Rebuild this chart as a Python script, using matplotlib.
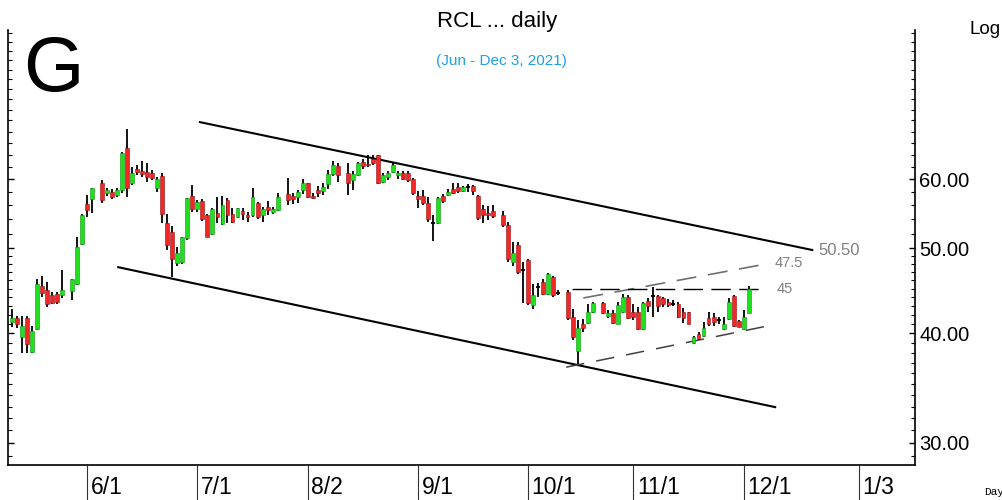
import numpy as np
import pandas as pd
import matplotlib
matplotlib.use("Agg")
import matplotlib.pyplot as plt
from matplotlib.ticker import FixedLocator, FuncFormatter, NullFormatter

nan = np.nan

# daily OHLC (nan = no bar printed that day)
open_ = [41.2, 41.7, 39.6, 41.7, 38.1, 40.45, 45.3, 44.8, 44.2, 44.35,
         44.2, nan, 44.7, 45.6, 50.6, 56.2, 56.95, nan, 59.4, 57.85,
         58.0, 57.55, 58.3, 65.1, 59.4, 61.55, 61.3, 61.1, 61.0, 58.55,
         60.45, 53.45, 52.25, 48.15, 48.3, 51.35, 57.4, 55.4, 56.65, 54.6,
         52.0, 54.9, 53.35, 56.8, 54.8, 54.3, 55.2, 54.6, 54.6, 56.3,
         54.65, 55.8, 55.1, 55.3, nan, 57.7, 57.4, 57.3, 58.3, 59.35,
         57.45, 58.3, 58.2, 59.25, 60.75, 62.05, nan, 60.9, 59.85, 60.6,
         62.8, 62.5, 63.2, 63.85, 59.6, 60.3, 61.15, 60.6, 61.0, 61.0,
         60.1, 57.4, 57.4, 56.3, 53.5, 53.5, 57.4, 57.5, 58.4, 58.7,
         58.2, 58.8, 58.85, 57.4, 55.4, 54.85, 55.2, nan, 54.6, 53.2,
         48.3, 50.4, 47.3, 48.5, 43.1, 45.15, 45.8, 44.4, 46.4, 44.5,
         nan, 44.6, 41.75, 38.15, 41.0, 41.1, 42.3, nan, 43.3, 41.9,
         42.2, 41.0, 42.3, 44.0, 42.35, 42.35, 40.5, 43.55, 44.1, 44.1,
         43.85, 43.45, 43.25, 43.25, 42.3, 42.3, 38.95, 39.9, 39.7, 41.6,
         41.75, 41.45, 40.5, 41.5, 44.1, 41.35, 40.5, 42.2]
high = [42.7, 41.9, 41.9, 41.9, 40.8, 46.1, 46.5, 45.75, 44.6, 44.6,
        47.3, nan, 46.2, 51.5, 54.7, 57.55, 58.6, nan, 59.85, 58.6,
        58.45, 58.6, 64.4, 68.4, 61.9, 62.2, 62.9, 62.6, 61.4, 60.35,
        60.9, 54.8, 53.0, 50.2, 51.55, 57.1, 59.05, 56.8, 56.9, 54.8,
        55.6, 57.3, 57.4, 57.1, 55.6, 55.65, 55.55, 55.05, 58.55, 56.55,
        55.8, 56.7, 55.8, 57.8, nan, 60.25, 57.8, 58.3, 60.1, 59.45,
        57.8, 58.9, 59.45, 61.4, 62.9, 62.6, nan, 62.6, 61.3, 62.8,
        63.3, 64.0, 63.85, 64.0, 61.0, 61.3, 62.75, 61.3, 61.3, 61.3,
        60.25, 58.2, 58.3, 57.3, 54.6, 57.3, 57.7, 58.4, 59.35, 59.35,
        58.95, 59.2, 59.1, 57.55, 56.0, 55.9, 56.0, nan, 55.2, 53.6,
        50.9, 50.9, 48.3, 48.7, 45.6, 45.7, 46.2, 46.9, 46.5, 44.8,
        nan, 44.8, 42.7, 41.4, 41.5, 43.25, 43.45, nan, 43.45, 42.5,
        42.5, 43.45, 44.4, 44.2, 43.25, 42.9, 43.45, 43.85, 45.2, 44.3,
        44.05, 43.75, 43.65, 43.45, 42.8, 42.3, 39.75, 40.15, 41.2, 42.3,
        42.15, 41.75, 41.75, 43.85, 44.3, 41.45, 42.55, 45.3]
low = [40.7, 40.6, 38.0, 38.0, 38.0, 40.4, 44.0, 42.85, 43.2, 43.2,
       43.9, nan, 43.65, 45.4, 50.5, 54.3, 54.9, nan, 56.35, 57.4,
       56.95, 57.25, 57.85, 57.25, 59.1, 60.6, 60.3, 59.6, 59.85, 58.05,
       53.45, 49.8, 46.4, 47.8, 48.0, 51.1, 55.0, 55.0, 53.8, 51.5,
       51.8, 53.45, 53.2, 53.45, 53.45, 54.2, 53.9, 53.65, 54.3, 54.0,
       53.65, 54.6, 54.75, 55.2, nan, 56.0, 56.2, 56.35, 57.7, 57.1,
       56.95, 57.3, 57.55, 58.4, 60.5, 59.6, nan, 57.55, 58.3, 60.45,
       61.7, 61.9, 62.2, 59.3, 59.35, 59.85, 60.9, 60.1, 59.85, 59.6,
       57.55, 55.6, 56.05, 53.65, 51.0, 53.35, 56.4, 57.4, 57.7, 57.9,
       58.05, 58.05, 57.55, 53.9, 53.5, 53.9, 54.15, nan, 52.85, 48.25,
       47.8, 46.8, 43.3, 43.1, 42.7, 44.05, 44.3, 44.3, 44.05, 44.2,
       nan, 41.4, 39.3, 36.95, 40.15, 41.05, 42.15, nan, 42.05, 41.7,
       41.05, 40.95, 42.2, 41.5, 41.4, 40.4, 40.4, 42.3, 41.75, 42.3,
       42.85, 42.85, 42.95, 41.6, 41.1, 40.95, 38.9, 39.3, 39.6, 40.8,
       40.8, 41.05, 40.4, 41.4, 40.65, 40.65, 40.4, 42.15]
close = [41.7, 41.0, 40.8, 38.9, 40.25, 45.6, 44.5, 43.2, 43.3, 43.4,
         44.8, nan, 46.1, 50.2, 54.6, 55.3, 58.6, nan, 56.8, 58.3,
         57.25, 58.3, 64.25, 58.6, 60.95, 61.1, 60.85, 60.3, 60.25, 60.1,
         54.8, 50.5, 48.7, 49.45, 51.5, 57.05, 55.4, 56.55, 54.0, 51.6,
         55.4, 54.3, 56.0, 54.6, 53.65, 55.6, 54.8, 54.3, 57.3, 54.3,
         55.45, 55.3, 55.45, 57.3, nan, 56.8, 56.9, 58.05, 59.45, 57.25,
         57.05, 57.8, 58.8, 60.85, 62.2, 60.6, nan, 59.35, 60.85, 62.55,
         62.05, 62.2, 62.65, 59.35, 60.6, 60.9, 62.2, 61.0, 59.95, 59.85,
         57.8, 56.9, 56.3, 54.0, 53.5, 57.05, 56.7, 58.05, 57.9, 58.2,
         58.7, 58.8, 58.2, 54.15, 54.6, 54.6, 54.45, nan, 53.2, 48.7,
         49.4, 47.0, 47.3, 43.3, 44.2, 45.15, 44.4, 46.8, 44.2, 44.5,
         nan, 41.6, 39.6, 40.6, 40.6, 42.3, 43.3, nan, 42.15, 42.25,
         41.1, 43.1, 44.0, 41.6, 41.8, 40.5, 43.3, 42.95, 44.1, 43.0,
         43.25, 43.1, 43.25, 41.75, 41.6, 41.05, 39.6, 39.45, 40.6, 41.05,
         41.2, 41.45, 41.0, 43.45, 40.8, 40.7, 41.8, 45.0]

first_day = "2021-05-11"
month_dates = ["2021-06-01", "2021-07-01", "2021-08-02", "2021-09-01",
               "2021-10-01", "2021-11-01", "2021-12-01", "2022-01-03"]
month_labels = ["6/1", "7/1", "8/2", "9/1", "10/1", "11/1", "12/1", "1/3"]

# trend lines: (bar index, price) end points
channel_top = ([37.5, 159.7], [69.7, 49.8])
channel_bottom = ([21.2, 152.3], [47.6, 32.95])
wedge_top = ([114.0, 151.3], [43.9, 48.1])
wedge_bottom = ([110.6, 150.9], [36.6, 40.8])
resistance = ([111.8, 150.3], [45.0, 45.0])

price_ticks = [30, 40, 50, 60]

plt.rcParams["font.family"] = ["Liberation Sans", "DejaVu Sans"]

o = np.array(open_)
h = np.array(high)
l = np.array(low)
c = np.array(close)
dates = pd.bdate_range(first_day, periods=len(o))
x = np.arange(len(dates))
month_pos = np.busday_count(first_day, month_dates)

fig = plt.figure(figsize=(10.02, 5.0), dpi=100)
ax = fig.add_axes([8 / 1002, 35 / 500, 907 / 1002, 435 / 500])
ax.set_yscale("log")

# trend lines (under the candles)
ax.plot(*channel_top, color="black", lw=1.5, zorder=1)
ax.plot(*channel_bottom, color="black", lw=1.5, zorder=1)
ax.plot(*wedge_top, color="#707070", lw=1.2, ls=(0, (12, 7)), zorder=1)
ax.plot(*wedge_bottom, color="#404040", lw=1.1, ls=(0, (12, 8)), zorder=1)
ax.plot(*resistance, color="black", lw=1.0, ls=(0, (14, 6)), zorder=1)

# candles
up = c > o
down = c < o
flat = c == o
ax.vlines(x, l, h, color="black", lw=1.3, zorder=2)
ax.bar(x[up], (c - o)[up], bottom=o[up], width=0.78, color="#1EE01E",
       edgecolor="#109010", lw=0.4, zorder=3)
ax.bar(x[down], (o - c)[down], bottom=c[down], width=0.78, color="#F02828",
       edgecolor="#901010", lw=0.4, zorder=3)
ax.hlines(o[flat], x[flat] - 0.4, x[flat] + 0.4, color="black", lw=1.3, zorder=3)

ax.text(wedge_top[0][1] + 0.8, wedge_top[1][1], "47.5", color="#808080",
        fontsize=10.5, va="center", ha="left")
ax.text(resistance[0][1] + 2.3, resistance[1][1], "45", color="#808080",
        fontsize=10.5, va="center", ha="left")
ax.text(channel_top[0][1] + 1.2, channel_top[1][1], "50.50", color="#808080",
        fontsize=12, va="center", ha="left")

ax.set_xlim(-0.8, 180.2)
ax.set_ylim(28.3, 88.8)

# y axis: labels on the right, ticks inward on both sides
ax.yaxis.set_major_locator(FixedLocator(price_ticks))
ax.yaxis.set_major_formatter(FuncFormatter(lambda v, p: f"{v:.2f}"))
ax.yaxis.set_minor_locator(FixedLocator(list(np.arange(29, 50, 1.0)) +
                                        list(np.arange(52, 90, 2.0))))
ax.yaxis.set_minor_formatter(NullFormatter())
ax.tick_params(axis="y", which="both", left=True, right=True,
               labelleft=False, labelright=True, direction="in",
               labelsize=14.5, pad=3)
ax.tick_params(axis="y", which="major", length=4, width=1)
ax.tick_params(axis="y", which="minor", length=3, width=0.8)

# x axis: long separators below the axis, labels right of them
ax.set_xticks(month_pos)
ax.set_xticklabels([])
ax.tick_params(axis="x", direction="out", length=26, width=0.8, color="#333333")
for pos, lab in zip(month_pos, month_labels):
    ax.annotate(lab, xy=(pos, 0), xycoords=("data", "axes fraction"),
                xytext=(2.5, -16), textcoords="offset points",
                fontsize=16.5, ha="left", va="center")

ax.spines["top"].set_visible(False)
for s in ["left", "right", "bottom"]:
    ax.spines[s].set_linewidth(1.2)

fig.text(0.496, 0.957, "RCL ... daily", fontsize=16, ha="center", va="center")
fig.text(0.5, 0.879, "(Jun - Dec 3, 2021)", fontsize=11, color="#1E9FE8",
         ha="center", va="center")
fig.text(0.023, 0.818, "G", fontsize=56, ha="left", va="baseline")
fig.text(0.968, 0.94, "Log", fontsize=13.5, ha="left", va="center")
fig.text(0.982, 0.016, "Day", fontsize=8, family=["Liberation Mono", "DejaVu Sans Mono"],
         ha="left", va="center")

fig.savefig("out.png", dpi=100)
